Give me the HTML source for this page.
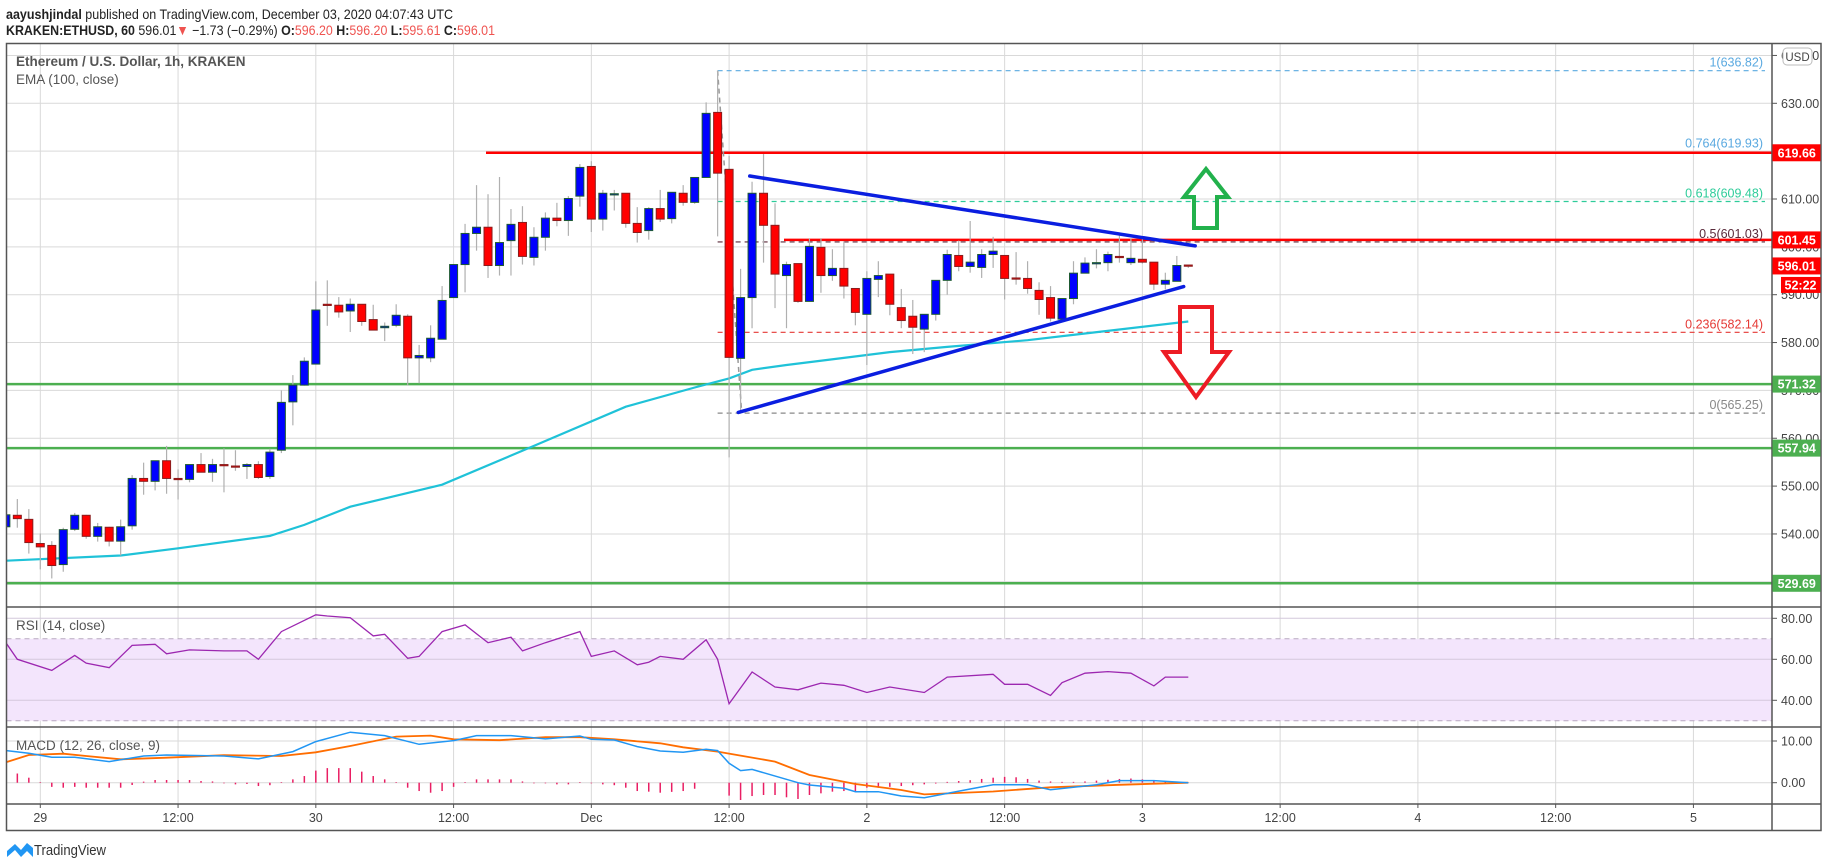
<!DOCTYPE html>
<html><head><meta charset="utf-8"><title>ETHUSD chart</title>
<style>
html,body{margin:0;padding:0;background:#fff;}
body{width:1828px;height:868px;overflow:hidden;font-family:"Liberation Sans",sans-serif;}
svg{display:block;}
</style></head>
<body>
<svg id="chart" width="1828" height="868" xmlns="http://www.w3.org/2000/svg" font-family="Liberation Sans, sans-serif"></svg>
<script>
// ---------- DATA ----------
const candleHours = [-3,-2,-1,0,1,2,3,4,5,6,7,8,9,10,11,12,13,14,15,16,17,18,19,20,21,22,23,24,25,26,27,28,29,30,31,32,33,34,35,36,37,38,39,40,41,42,43,44,45,46,47,48,49,50,51,52,53,54,55,56,57,58,59,60,61,62,63,64,65,66,67,68,69,70,71,72,73,74,75,76,77,78,79,80,81,82,83,84,85,86,87,88,89,90,91,92,93,94,95,96,97,98,99,100];
const opens  = [541.5,543.9,543.05,538.0,537.6,533.6,540.97,543.9,539.5,541.4,538.5,541.7,551.6,551.0,555.3,551.6,551.4,554.5,552.9,554.5,554.2,554.1,554.5,552.0,557.5,567.6,571.1,575.5,588.0,587.8,586.6,588.0,584.8,583.1,583.6,585.5,576.8,576.8,580.7,589.4,596.3,602.8,604.1,596.1,601.3,605.1,597.8,602.0,606.0,605.5,610.6,616.8,605.8,611.1,611.2,604.9,603.4,608.0,605.9,611.2,609.3,614.5,628.1,616.2,576.7,589.4,611.2,604.5,594.0,596.5,588.6,599.9,594.0,595.5,591.3,585.9,593.2,594.3,587.3,585.5,582.8,585.9,593.0,598.2,595.9,595.7,598.4,598.2,593.5,593.4,590.9,589.4,584.9,589.2,594.5,596.6,596.7,598.0,596.7,597.4,596.8,592.2,592.8,596.2];
const highs  = [545.0,547.3,545.2,540.1,538.5,541.3,544.4,544.0,542.3,541.5,543.0,552.3,554.9,555.3,558.4,553.5,554.5,556.9,555.7,557.9,557.5,554.8,555.2,557.8,570.0,573.2,576.9,592.8,593.0,589.5,589.2,588.0,587.9,584.2,588.0,585.9,579.5,583.6,591.8,596.3,604.8,612.9,611.0,614.6,607.9,608.5,604.1,607.2,609.2,610.6,617.3,617.9,611.9,611.9,611.2,608.3,608.3,611.9,611.4,612.9,614.5,630.2,636.8,619.0,595.4,613.6,619.4,609.1,596.9,596.5,601.8,601.8,599.5,601.1,591.3,594.9,597.0,594.3,591.2,588.9,585.9,593.0,599.4,601.3,605.4,599.5,602.1,598.2,598.9,597.0,592.6,591.8,589.2,597.0,597.8,599.5,599.0,603.0,601.8,601.8,596.8,594.6,598.1,596.2];
const lows   = [540.0,541.3,535.9,532.6,530.7,532.1,540.6,539.0,538.4,537.4,535.5,540.9,548.2,549.1,548.4,547.2,550.8,552.9,550.9,548.7,553.2,551.5,551.5,551.5,556.9,562.7,571.0,575.5,583.5,585.2,582.2,583.5,582.6,580.3,583.2,571.0,571.5,575.9,580.7,589.4,590.5,599.2,593.5,594.0,594.0,596.3,596.1,599.2,604.3,602.3,608.4,603.1,603.4,607.6,604.0,600.9,601.5,605.2,604.9,608.6,609.0,614.5,602.2,556.0,565.25,583.0,596.7,587.2,583.0,588.3,588.6,590.4,592.9,589.2,583.6,575.3,589.5,585.7,583.0,577.6,578.0,584.6,590.0,594.9,594.6,593.5,595.6,589.0,592.1,590.2,585.8,584.4,584.9,588.0,594.5,595.5,594.9,596.7,596.2,596.5,591.0,591.1,592.8,595.6];
const closes = [544.0,543.2,538.2,537.3,533.4,540.9,543.9,539.5,541.5,538.5,541.5,551.6,551.0,555.3,551.6,551.4,554.5,552.9,554.5,554.3,554.0,554.5,551.8,557.1,567.5,571.1,576.1,586.8,587.8,586.4,588.0,584.4,582.6,583.4,585.7,576.8,577.3,580.9,588.8,596.3,602.8,604.1,596.1,600.9,604.7,598.0,602.0,606.0,605.5,610.1,616.6,605.8,611.2,611.1,604.9,603.0,608.0,605.8,611.4,609.3,614.5,627.9,615.4,576.9,589.4,611.2,604.5,594.3,596.3,588.6,600.1,594.0,595.5,591.8,586.3,593.4,594.0,588.0,584.6,583.2,585.9,593.0,598.4,595.9,596.8,598.4,599.1,593.4,593.4,591.3,589.0,585.1,589.2,594.5,596.6,596.7,598.4,597.8,597.6,596.8,592.2,593.0,596.1,596.01];

const emaHours  = [-3,7,12,20,23,27,35,43,51,57,60,62,65,70,74,79,86,91,100];
const emaValues = [534.4,535.5,537.0,539.6,541.9,545.7,550.3,558.4,566.6,570.6,572.5,574.3,575.3,576.8,578.0,579.1,580.5,581.9,584.4];

const rsiHours  = [-3,-2,1,3,4,6,8,10,11,13,16,18,19,21,24,25,27,29,30,32,33,35,37,39,41,42,44,47,48,50,52,53,54,56,58,59,60,62,64,66,68,70,72,74,77,79,83,84,86,88,89,91,93,95,97,98,100];
const rsiValues = [68.1,60.0,54.6,61.9,58.1,55.9,66.8,67.3,62.7,64.6,64.1,64.1,60.0,73.5,81.7,81.1,80.3,71.4,72.2,60.5,61.4,73.5,76.8,68.1,70.8,64.1,68.1,73.5,61.4,64.1,57.3,58.6,61.4,60.0,69.5,60.0,38.3,53.8,46.5,45.1,48.4,47.3,43.8,46.5,43.8,51.3,52.7,47.8,47.8,42.4,48.6,53.2,54.0,53.2,47.0,51.3,51.3];

const macdHours  = [-3,-1,1,3,6,9,11,16,19,22,24,27,30,33,36,38,41,44,47,48,50,52,54,56,58,59,60,61,62,66,67,70,71,73,75,77,81,83,86,88,92,94,97,100];
const macdValues = [7.7,7.05,6.1,6.1,5.05,6.4,6.65,6.4,5.7,7.45,9.85,12.1,11.3,9.2,10.1,11.3,11.3,10.5,11.2,10.4,10.25,8.65,7.6,7.3,8.0,7.7,4.65,2.9,3.2,0,-0.55,-1.35,-2.15,-2.15,-3.2,-3.6,-1.5,-0.5,-0.5,-1.7,-0.5,0.5,0.5,0];
const signalHours  = [-3,-1,2,4,7,11,16,21,24,27,31,34,36,40,44,47,50,54,56,59,61,64,67,71,75,77,83,88,94,100];
const signalValues = [4.9,6.65,6.95,6.4,5.6,6.0,6.6,6.4,7.3,8.8,11.05,11.3,10.4,10.2,10.9,10.9,10.4,9.45,8.5,7.45,6.5,5.05,1.85,-0.3,-1.75,-2.8,-2.1,-1.1,-0.5,0];
const histHours  = [-2,-1,0,1,2,3,4,5,6,7,8,9,10,11,12,13,14,15,16,17,18,19,20,21,22,23,24,25,26,27,28,29,30,31,32,33,34,35,36,37,38,39,40,41,42,43,44,45,46,47,48,49,50,51,52,53,54,55,56,57,58,59,60,61,62,63,64,65,66,67,68,69,70,71,72,73,74,75,76,77,78,79,80,81,82,83,84,85,86,87,88,89,90,91,92,93,94,95,96,97,98,99,100];
const histValues = [2.2,1.2,0.15,-1.0,-1.2,-1.0,-1.2,-1.2,-1.2,-1.2,-0.55,0.25,0.65,0.65,0.65,0.65,0.4,0.3,-0.15,-0.4,-0.3,-0.8,-0.6,0.15,0.8,1.6,2.9,3.5,3.5,3.5,2.65,1.6,0.8,0.15,-1.2,-2.0,-2.4,-2.0,-1.0,0.15,0.8,0.8,0.8,0.8,0.3,-0.15,-0.15,-0.4,-0.4,0.15,-0.15,-0.4,-0.6,-1.2,-2.0,-2.15,-2.4,-2.2,-2.0,-1.45,0,0,-3.1,-4.15,-3.2,-2.95,-2.95,-3.5,-3.9,-2.95,-2.55,-2.15,-2.0,-2.0,-1.2,-1.2,-1.0,-0.8,-0.6,-0.4,-0.2,0.2,0.4,0.6,0.9,1.2,1.4,1.3,0.9,0.5,0.3,0.2,0.2,0.3,0.5,0.7,0.9,1.0,0.8,0.5,0.3,0.1,0.05];

const priceTicks = ["640.00","630.00","620.00","610.00","600.00","590.00","580.00","570.00","560.00","550.00","540.00","530.00"];
const timeLabels = ["29","12:00","30","12:00","Dec","12:00","2","12:00","3","12:00","4","12:00","5"];
const rsiTicks = ["80.00","60.00","40.00"];
const macdTicks = ["10.00","0.00"];
const fibLevels = [1, 0.764, 0.618, 0.5, 0.236, 0];
const fibPrices = [636.82, 619.93, 609.48, 601.03, 582.14, 565.25];
const supportLevels = [571.32, 557.94, 529.69];
const resistanceLevels = [619.66, 601.45];
const lastPrice = 596.01;
// trend lines: [hourStart, priceStart, hourEnd, priceEnd]
const upperTrend = [61.8, 614.8, 100.6, 600.2];
const lowerTrend = [60.8, 565.4, 99.6, 591.7];

// ---------- AXES ----------
const X0 = 40.3, HOUR = 11.48;
const xh = h => X0 + h * HOUR;
const yp = p => 103.3 + (630 - p) * 4.785;
const yr = r => 659.3 + (60 - r) * 2.05;
const ym = m => 782.7 - m * 4.17;
const AXIS_X = 1772, LEFT = 6.5, RIGHT = 1821;

const svg = document.getElementById('chart');
const NS = 'http://www.w3.org/2000/svg';
function mk(tag, attrs, parent){ const e=document.createElementNS(NS,tag); for(const k in attrs) e.setAttribute(k,attrs[k]); (parent||svg).appendChild(e); return e; }

// clip paths
const defs = mk('defs',{});
const cp1 = mk('clipPath',{id:'cMain'},defs); mk('rect',{x:LEFT,y:44,width:AXIS_X-LEFT,height:563},cp1);
const cp2 = mk('clipPath',{id:'cRsi'},defs); mk('rect',{x:LEFT,y:607,width:AXIS_X-LEFT,height:120},cp2);
const cp3 = mk('clipPath',{id:'cMacd'},defs); mk('rect',{x:LEFT,y:727,width:AXIS_X-LEFT,height:77},cp3);

// header
const h1 = mk('text',{x:6,y:19,'font-size':'14',fill:'#222',textLength:447,lengthAdjust:'spacingAndGlyphs'});
 
h1.innerHTML = '<tspan font-weight="bold">aayushjindal</tspan> published on TradingView.com, December 03, 2020 04:07:43 UTC';
const h2 = mk('text',{x:6,y:35,'font-size':'14',fill:'#222',textLength:489,lengthAdjust:'spacingAndGlyphs'});
 
h2.innerHTML = '<tspan font-weight="bold">KRAKEN:ETHUSD, 60</tspan> 596.01<tspan fill="#ef5350">▼</tspan> −1.73 (−0.29%) <tspan font-weight="bold">O:</tspan><tspan fill="#ef5350">596.20</tspan> <tspan font-weight="bold">H:</tspan><tspan fill="#ef5350">596.20</tspan> <tspan font-weight="bold">L:</tspan><tspan fill="#ef5350">595.61</tspan> <tspan font-weight="bold">C:</tspan><tspan fill="#ef5350">596.01</tspan>';

// grids
const grid = mk('g',{stroke:'#d9d9d9','stroke-width':1});
 
timeLabels.forEach((t,i)=>{ const x=xh(i*12); mk('line',{x1:x,y1:44,x2:x,y2:804},grid); });
priceTicks.forEach(t=>{ const y=yp(parseFloat(t)); mk('line',{x1:LEFT,y1:y,x2:AXIS_X,y2:y},grid); });

// RSI band
const band = mk('rect',{x:LEFT,y:yr(70),width:AXIS_X-LEFT,height:yr(30)-yr(70),fill:'#f3e5fc'});
 
rsiTicks.forEach(t=>{ const y=yr(parseFloat(t)); mk('line',{x1:LEFT,y1:y,x2:AXIS_X,y2:y,stroke:'#d4c8dc','stroke-width':1}); });
[70,30].forEach(v=>{ mk('line',{x1:LEFT,y1:yr(v),x2:AXIS_X,y2:yr(v),stroke:'#b8a8c0','stroke-width':1,'stroke-dasharray':'5,4'}); });
macdTicks.forEach(t=>{ const y=ym(parseFloat(t)); mk('line',{x1:LEFT,y1:y,x2:AXIS_X,y2:y,stroke:'#d9d9d9','stroke-width':1}); });

// main chart group
const main = mk('g',{'clip-path':'url(#cMain)'});
 

// horizontal support/resistance
supportLevels.forEach(p=>{
  const l = mk('line',{x1:LEFT,y1:yp(p),x2:AXIS_X,y2:yp(p),stroke:'#4caf50','stroke-width':2.5},main);
   
});
const resStart = [486, 784];
resistanceLevels.forEach((p,i)=>{
  const l = mk('line',{x1:resStart[i],y1:yp(p),x2:AXIS_X,y2:yp(p),stroke:'#ff0000','stroke-width':2.5},main);
   
});

// fib retracement
const fibColors = ['#5aa9e0','#5aa9e0','#2ecc9a','#5a2a3a','#e53935','#888888'];
const fibX1 = xh(59), fibX2 = 1765;
fibPrices.forEach((p,i)=>{
  if(fibLevels[i]!==0.764){
    const l = mk('line',{x1:fibX1,y1:yp(p),x2:fibX2,y2:yp(p),stroke:fibColors[i],'stroke-width':1.2,'stroke-dasharray':'5,4'},main);
     
  }
  const t = mk('text',{x:1763,y:yp(p)-4,'font-size':'12.5',fill:fibColors[i],'text-anchor':'end'},main);
   
  t.textContent = fibLevels[i] + '(' + p.toFixed(2) + ')';
});
const fd = mk('line',{x1:xh(59),y1:yp(fibPrices[0]),x2:xh(61.1),y2:yp(fibPrices[5]),stroke:'#999','stroke-width':1.5,'stroke-dasharray':'5,4'},main);
 

// EMA
const emaPts = emaHours.map((h,i)=>xh(h).toFixed(1)+','+yp(emaValues[i]).toFixed(1)).join(' ');
const ema = mk('polyline',{points:emaPts,fill:'none',stroke:'#1fc2d8','stroke-width':2.2},main);
 

// candles
candleHours.forEach((h,i)=>{
  const o=opens[i], c=closes[i], hi=highs[i], lo=lows[i];
  const up = c>=o, x=xh(h);
  const g = mk('g',{},main);
   
  mk('line',{x1:x,y1:yp(hi),x2:x,y2:yp(lo),stroke:'#b0b0b0','stroke-width':1.2},g);
  const top=yp(Math.max(o,c)), bot=yp(Math.min(o,c));
  mk('rect',{x:x-4,y:top,width:8,height:Math.max(bot-top,1.2),fill:up?'#0000ff':'#ff0000',stroke:up?'#1e5a32':'#8a1c1c','stroke-width':1},g);
});

// trend lines
[upperTrend, lowerTrend].forEach((t,i)=>{
  const l = mk('line',{x1:xh(t[0]),y1:yp(t[1]),x2:xh(t[2]),y2:yp(t[3]),stroke:'#0a1ee0','stroke-width':3.5,'stroke-linecap':'round'},main);
   
});

// arrows
const ua = mk('polygon',{points:'1206,169 1228,197 1217,197 1217,228 1194,228 1194,197 1184,197',fill:'none',stroke:'#22b14c','stroke-width':4,'stroke-linejoin':'miter'},main);
 
const da = mk('polygon',{points:'1180,307 1212,307 1212,352 1229,352 1196,397 1164,352 1180,352',fill:'none',stroke:'#ed1c24','stroke-width':4,'stroke-linejoin':'miter'},main);
 

// title
const tt = mk('text',{x:16,y:66,'font-size':'13.5','font-weight':'bold',fill:'#555'});
 
tt.textContent = 'Ethereum / U.S. Dollar, 1h, KRAKEN';
const et = mk('text',{x:16,y:84,'font-size':'13.5',fill:'#555'});
 
et.textContent = 'EMA (100, close)';

// RSI line
const rsiG = mk('g',{'clip-path':'url(#cRsi)'});
 
const rsiPts = rsiHours.map((h,i)=>xh(h).toFixed(1)+','+yr(rsiValues[i]).toFixed(1)).join(' ');
const rl = mk('polyline',{points:rsiPts,fill:'none',stroke:'#9c27b0','stroke-width':1.3},rsiG);
 
const rt = mk('text',{x:16,y:630,'font-size':'13.5',fill:'#555'});
 
rt.textContent = 'RSI (14, close)';

// MACD
const mG = mk('g',{'clip-path':'url(#cMacd)'});
 
histHours.forEach((h,i)=>{
  const v=histValues[i], x=xh(h);
  const b = mk('line',{x1:x,y1:ym(0),x2:x,y2:ym(v),stroke:'#e91e63','stroke-width':1.5},mG);
   
});
const sl = mk('polyline',{points:signalHours.map((h,i)=>xh(h).toFixed(1)+','+ym(signalValues[i]).toFixed(1)).join(' '),fill:'none',stroke:'#ff6d00','stroke-width':1.8},mG);
 
const ml = mk('polyline',{points:macdHours.map((h,i)=>xh(h).toFixed(1)+','+ym(macdValues[i]).toFixed(1)).join(' '),fill:'none',stroke:'#2196f3','stroke-width':1.5},mG);
 
const mt = mk('text',{x:16,y:750,'font-size':'13.5',fill:'#555'});
 
mt.textContent = 'MACD (12, 26, close, 9)';

// frame & separators
const fr = mk('g',{stroke:'#555','stroke-width':1.5,fill:'none'});
 
mk('rect',{x:LEFT,y:43.5,width:RIGHT-LEFT,height:787},fr);
mk('line',{x1:AXIS_X,y1:43.5,x2:AXIS_X,y2:830.5},fr);
[607,727,804].forEach(y=>mk('line',{x1:LEFT,y1:y,x2:RIGHT,y2:y},fr));

// price axis labels
const ax = mk('g',{'font-size':'12.5',fill:'#444'});
 
priceTicks.forEach(t=>{
  const y=yp(parseFloat(t)); if(y<50||y>600) return;
  mk('line',{x1:AXIS_X,y1:y,x2:AXIS_X+5,y2:y,stroke:'#555'},ax);
  const e=mk('text',{x:1781,y:y+4.5},ax); e.textContent=t;
   
});
rsiTicks.forEach(t=>{ const y=yr(parseFloat(t)); mk('line',{x1:AXIS_X,y1:y,x2:AXIS_X+5,y2:y,stroke:'#555'},ax); const e=mk('text',{x:1781,y:y+4.5},ax); e.textContent=t;
    });
macdTicks.forEach(t=>{ const y=ym(parseFloat(t)); mk('line',{x1:AXIS_X,y1:y,x2:AXIS_X+5,y2:y,stroke:'#555'},ax); const e=mk('text',{x:1781,y:y+4.5},ax); e.textContent=t;
    });

// price tags
function tag(p, txt, col, x0, name){
  const y=yp(p); const g=mk('g',{});
   
  mk('rect',{x:x0,y:y-8.5,width:RIGHT-x0-0.5,height:17,fill:col},g);
  const t=mk('text',{x:(x0+RIGHT)/2,y:y+4.5,'font-size':'12.5','font-weight':'bold',fill:'#fff','text-anchor':'middle'},g);
  t.textContent=txt;
}
resistanceLevels.forEach(p=>tag(p,p.toFixed(2),'#ff0000',AXIS_X+0.5,'resistance-price-tag'));
supportLevels.forEach(p=>tag(p,p.toFixed(2),'#4caf50',AXIS_X+0.5,'support-price-tag'));
tag(lastPrice,lastPrice.toFixed(2),'#ff0000',AXIS_X+0.5,'last-price-tag');
const cd=mk('g',{});  
mk('rect',{x:1781,y:yp(lastPrice)+11,width:39.5,height:16,fill:'#ff0000'},cd);
const cdt=mk('text',{x:1800.5,y:yp(lastPrice)+23.5,'font-size':'12.5','font-weight':'bold',fill:'#fff','text-anchor':'middle'},cd); cdt.textContent='52:22';

// USD button
const ub=mk('g',{});  
mk('rect',{x:1783,y:48,width:29,height:17,rx:4,fill:'#fff',stroke:'#bbb'},ub);
const ubt=mk('text',{x:1797.5,y:61,'font-size':'11.5',fill:'#444','text-anchor':'middle'},ub); ubt.textContent='USD';

// time axis
const tx=mk('g',{'font-size':'12.5',fill:'#444','text-anchor':'middle'});
 
timeLabels.forEach((t,i)=>{ const x=xh(i*12); mk('line',{x1:x,y1:804,x2:x,y2:808,stroke:'#555'},tx); const e=mk('text',{x:x,y:822},tx); e.textContent=t;
    });

// TradingView logo
const lg=mk('g',{});  
mk('path',{d:'M7,857 L7,851 L15,844 L21,850 L27,843 L33,848 L33,857 L27,851 L21,857 L15,850 Z',fill:'#2196f3'},lg);
const lt=mk('text',{x:34,y:855,'font-size':'15',fill:'#333',textLength:72,lengthAdjust:'spacingAndGlyphs'},lg); lt.textContent='TradingView';
</script>
</body></html>
